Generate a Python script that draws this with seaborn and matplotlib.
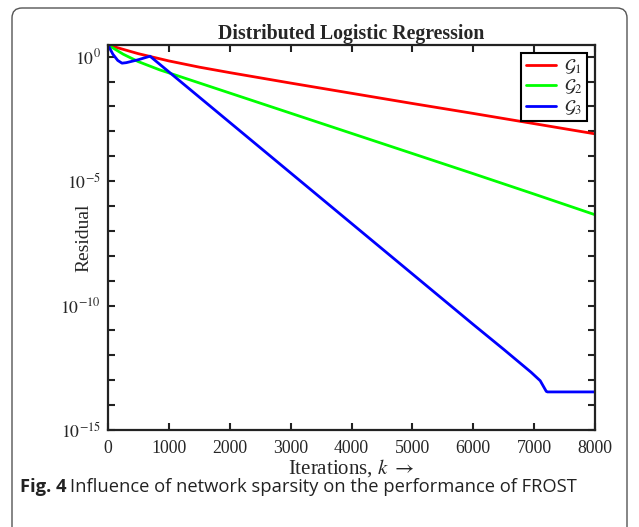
import numpy as np
import pandas as pd
import matplotlib
matplotlib.use('Agg')
import matplotlib.pyplot as plt
import matplotlib.ticker as mticker
from matplotlib.patches import FancyBboxPatch
from matplotlib.transforms import IdentityTransform
import seaborn as sns

# ---- data (log10 of residual) ----
red_iter = [0, 500, 1000, 1500, 2000, 3000, 4000, 5000, 6000, 7000, 8000]
red_log = [0.47, 0.12, -0.17, -0.42, -0.64, -1.06, -1.47, -1.88, -2.28, -2.69, -3.1]

green_iter = [0, 250, 500, 850, 1000, 2000, 3000, 4000, 5000, 6000, 7000, 8000]
green_log = [0.47, 0.1, -0.2, -0.53, -0.65, -1.46, -2.27, -3.08, -3.89, -4.7, -5.52, -6.35]

blue_iter = [0, 80, 160, 230, 300, 500, 690, 1000, 2000, 3000, 4000, 5000, 6000,
             6500, 6950, 7100, 7200, 7220, 8000]
blue_log = [0.47, 0.1, -0.15, -0.26, -0.24, -0.12, 0.02, -0.61, -2.64, -4.67, -6.7,
            -8.73, -10.76, -11.76, -12.68, -13.02, -13.45, -13.47, -13.47]

labels = [r'$\mathcal{G}_1$', r'$\mathcal{G}_2$', r'$\mathcal{G}_3$']
colors = ['#ff0000', '#00ff00', '#0000ff']

frames = []
for lab, it, lg in zip(labels, [red_iter, green_iter, blue_iter], [red_log, green_log, blue_log]):
    frames.append(pd.DataFrame({'iter': it, 'residual': 10.0 ** np.array(lg), 'graph': lab}))
df = pd.concat(frames, ignore_index=True)

# ---- style ----
sns.set_style('ticks')
plt.rcParams['font.family'] = ['Liberation Serif', 'DejaVu Serif']
plt.rcParams['mathtext.fontset'] = 'stix'
plt.rcParams['xtick.direction'] = 'in'
plt.rcParams['ytick.direction'] = 'in'

W, H = 639, 527
fig = plt.figure(figsize=(W / 100, H / 100), dpi=100)
ax = fig.add_axes([108 / W, 1 - 430 / H, (595 - 108) / W, (430 - 45) / H])

sns.lineplot(data=df, x='iter', y='residual', hue='graph', palette=colors,
             linewidth=2, ax=ax, sort=False, estimator=None)

ax.set_yscale('log')
ax.set_xlim(0, 8000)
ax.set_ylim(1e-15, 10 ** 0.47)
ax.set_xticks(range(0, 8001, 1000))
ax.yaxis.set_major_locator(mticker.FixedLocator([1e-15, 1e-10, 1e-5, 1e0]))
ax.yaxis.set_minor_locator(mticker.FixedLocator([10.0 ** k for k in range(-15, 1)]))
ax.yaxis.set_minor_formatter(mticker.NullFormatter())
ax.yaxis.set_major_formatter(mticker.FuncFormatter(lambda v, p: r'$10^{%d}$' % round(np.log10(v))))

ax.tick_params(which='both', top=True, right=True, labelsize=12.8, width=1.5, length=5, color='#222222')
ax.tick_params(axis='x', pad=7)
ax.tick_params(axis='y', pad=5)
for s in ax.spines.values():
    s.set_linewidth(1.6)
    s.set_color('#222222')

ax.set_title('Distributed Logistic Regression', fontsize=14.2, fontweight='bold', pad=4)
ax.set_xlabel(r'Iterations, $k\ \rightarrow$', fontsize=15, labelpad=0)
ax.set_ylabel('Residual', fontsize=14)
ax.yaxis.set_label_coords(-0.033, 0.5)

leg = ax.legend(loc='upper right', fontsize=13, frameon=True, fancybox=False, framealpha=1,
                handlelength=1.7, borderaxespad=0.45, borderpad=0.25, labelspacing=0.1,
                handletextpad=0.4)
leg.set_title(None)
leg.get_frame().set_edgecolor('black')
leg.get_frame().set_linewidth(1.5)

# ---- outer rounded frame and caption ----
frame = FancyBboxPatch((12, -40), 615, H - 8 + 40, boxstyle='round,pad=0,rounding_size=10',
                       transform=IdentityTransform(), facecolor='none', edgecolor='#555555',
                       linewidth=1.0)
fig.patches.append(frame)

t1 = fig.text(20 / W, 1 - 492 / H, 'Fig. 4', fontsize=13.2, fontweight='bold',
              family=['Open Sans', 'DejaVu Sans'], color='#222222')
fig.canvas.draw()
bb = t1.get_window_extent()
fig.text((bb.x1 + 4) / W, 1 - 492 / H, 'Influence of network sparsity on the performance of FROST',
         fontsize=13.2, family=['Open Sans', 'DejaVu Sans'], color='#222222')

fig.savefig('out.png', dpi=100)
